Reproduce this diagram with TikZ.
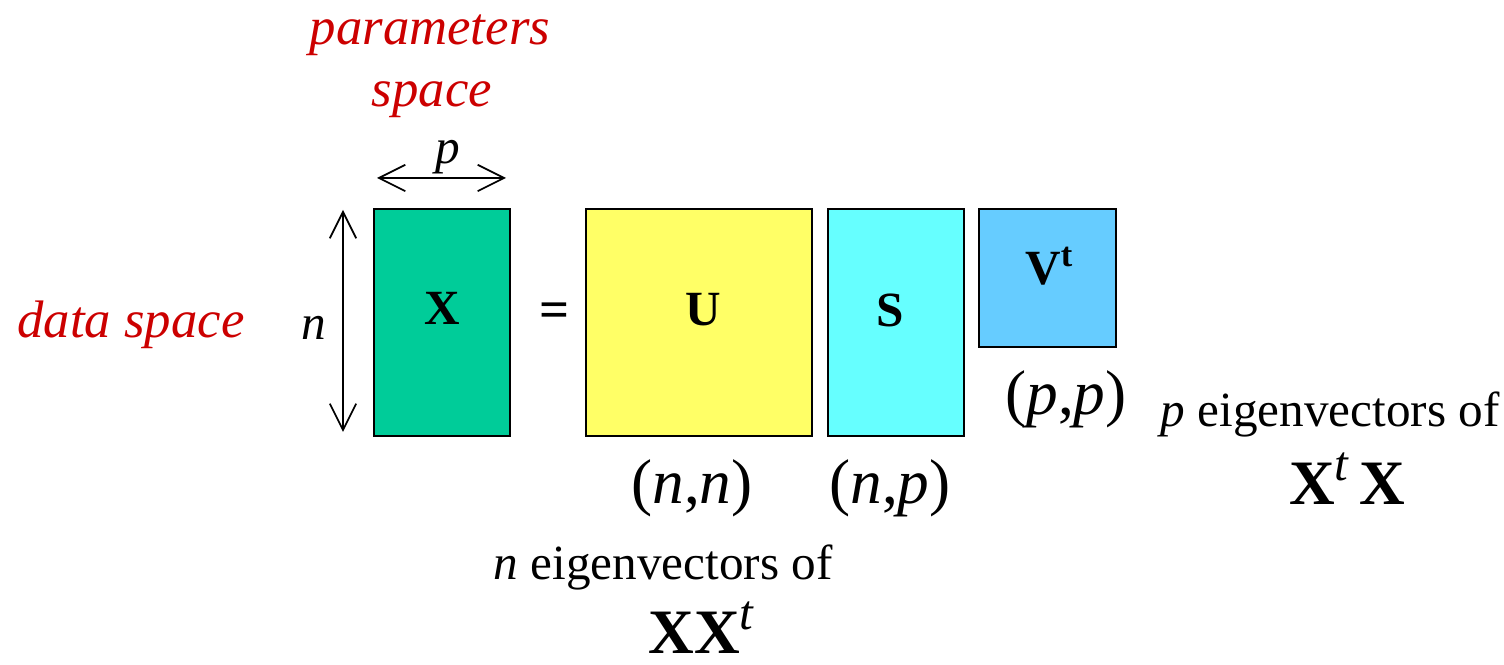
\documentclass[tikz,border=0pt]{standalone}
\usepackage{fontspec}
\setmainfont{Liberation Serif}
\usepackage{tikz}
\usetikzlibrary{arrows.meta,positioning}
\definecolor{svdGreen}{RGB}{0,204,153}
\definecolor{svdYellow}{RGB}{255,255,102}
\definecolor{svdCyan}{RGB}{102,255,255}
\definecolor{svdBlue}{RGB}{102,204,255}
\definecolor{svdRed}{RGB}{204,0,0}
\newcommand{\supt}{\raisebox{7pt}{\fontsize{14}{14}\selectfont\mdseries\itshape t}}

\begin{document}
\begin{tikzpicture}[scale=1,
    mat/.style={draw=black, line width=0.6pt, inner sep=0pt},
    dimarrow/.style={line width=0.5pt, {Straight Barb[length=7.5pt,width=7.5pt]}-{Straight Barb[length=7.5pt,width=7.5pt]}},
    spacelbl/.style={text=svdRed, font=\fontsize{15}{18}\selectfont\itshape, inner sep=0pt},
    matlbl/.style={font=\fontsize{14}{16}\selectfont\bfseries, inner sep=0pt, anchor=base},
    sizelbl/.style={font=\fontsize{18}{20}\selectfont, inner sep=0pt},
    eiglbl/.style={font=\fontsize{14}{16}\selectfont, inner sep=0pt, anchor=base},
    prodlbl/.style={font=\fontsize{18}{20}\selectfont\bfseries, inner sep=0pt, anchor=base}]
\useasboundingbox (0,0) rectangle (15.04,6.65);

% the four matrices
\node[mat, fill=svdGreen, minimum width=1.36cm, minimum height=2.27cm] (X) at (4.42,3.425) {};
\node[mat, fill=svdYellow, minimum width=2.26cm, minimum height=2.27cm, right=0.74cm of X] (U) {};
\node[mat, fill=svdCyan, minimum width=1.36cm, minimum height=2.27cm, right=0.14cm of U] (S) {};
\node[mat, fill=svdBlue, minimum width=1.37cm, minimum height=1.38cm, anchor=north west] (V) at ([xshift=0.13cm]S.north east) {};

\node[matlbl] (Xl) at ([yshift=-0.025cm]X.center) {X};
\node[matlbl] (Ul) at ([xshift=0.04cm,yshift=-0.035cm]U.center) {U};
\node[matlbl] (Sl) at ([xshift=-0.06cm,yshift=-0.045cm]S.center) {S};
\node[matlbl] (Vl) at ([xshift=0.02cm,yshift=-0.07cm]V.center) {V\textsuperscript{t}};
\node[font=\fontsize{15}{18}\selectfont\bfseries] (eq) at (5.55,3.50) {=};

% dimensions of X
\coordinate (ntop) at (3.43,4.55);
\coordinate (nbot) at (3.43,2.33);
\coordinate (pl) at (3.77,4.87);
\coordinate (pr) at (5.06,4.87);
\draw[dimarrow] (ntop) -- (nbot);
\draw[dimarrow] (pl) -- (pr);
\node[font=\fontsize{14}{16}\selectfont\itshape] (nl) at (3.14,3.37) {n};
\node[font=\fontsize{14}{16}\selectfont\itshape] (pl2) at (4.48,5.08) {p};

% spaces
\node[spacelbl, anchor=base] (par) at (4.30,6.20) {parameters};
\node[spacelbl, anchor=base] (spc) at (4.32,5.58) {space};
\node[spacelbl, anchor=base] (dat) at (1.31,3.27) {data space};

% sizes
\node[sizelbl] (nn) at (6.92,1.77) {(\textit{n},\textit{n})};
\node[sizelbl] (np) at (8.90,1.77) {(\textit{n},\textit{p})};
\node[sizelbl] (pp) at (10.66,2.66) {(\textit{p},\textit{p})};

% eigenvectors
\node[eiglbl] (eigp) at (13.30,2.38) {\textit{p} eigenvectors of};
\node[prodlbl] (xtx) at (13.47,1.60) {X\supt\,X};
\node[eiglbl] (eign) at (6.63,0.85) {\textit{n} eigenvectors of};
\node[prodlbl] (xxt) at (7.01,0.11) {XX\supt};
\end{tikzpicture}
\end{document}
